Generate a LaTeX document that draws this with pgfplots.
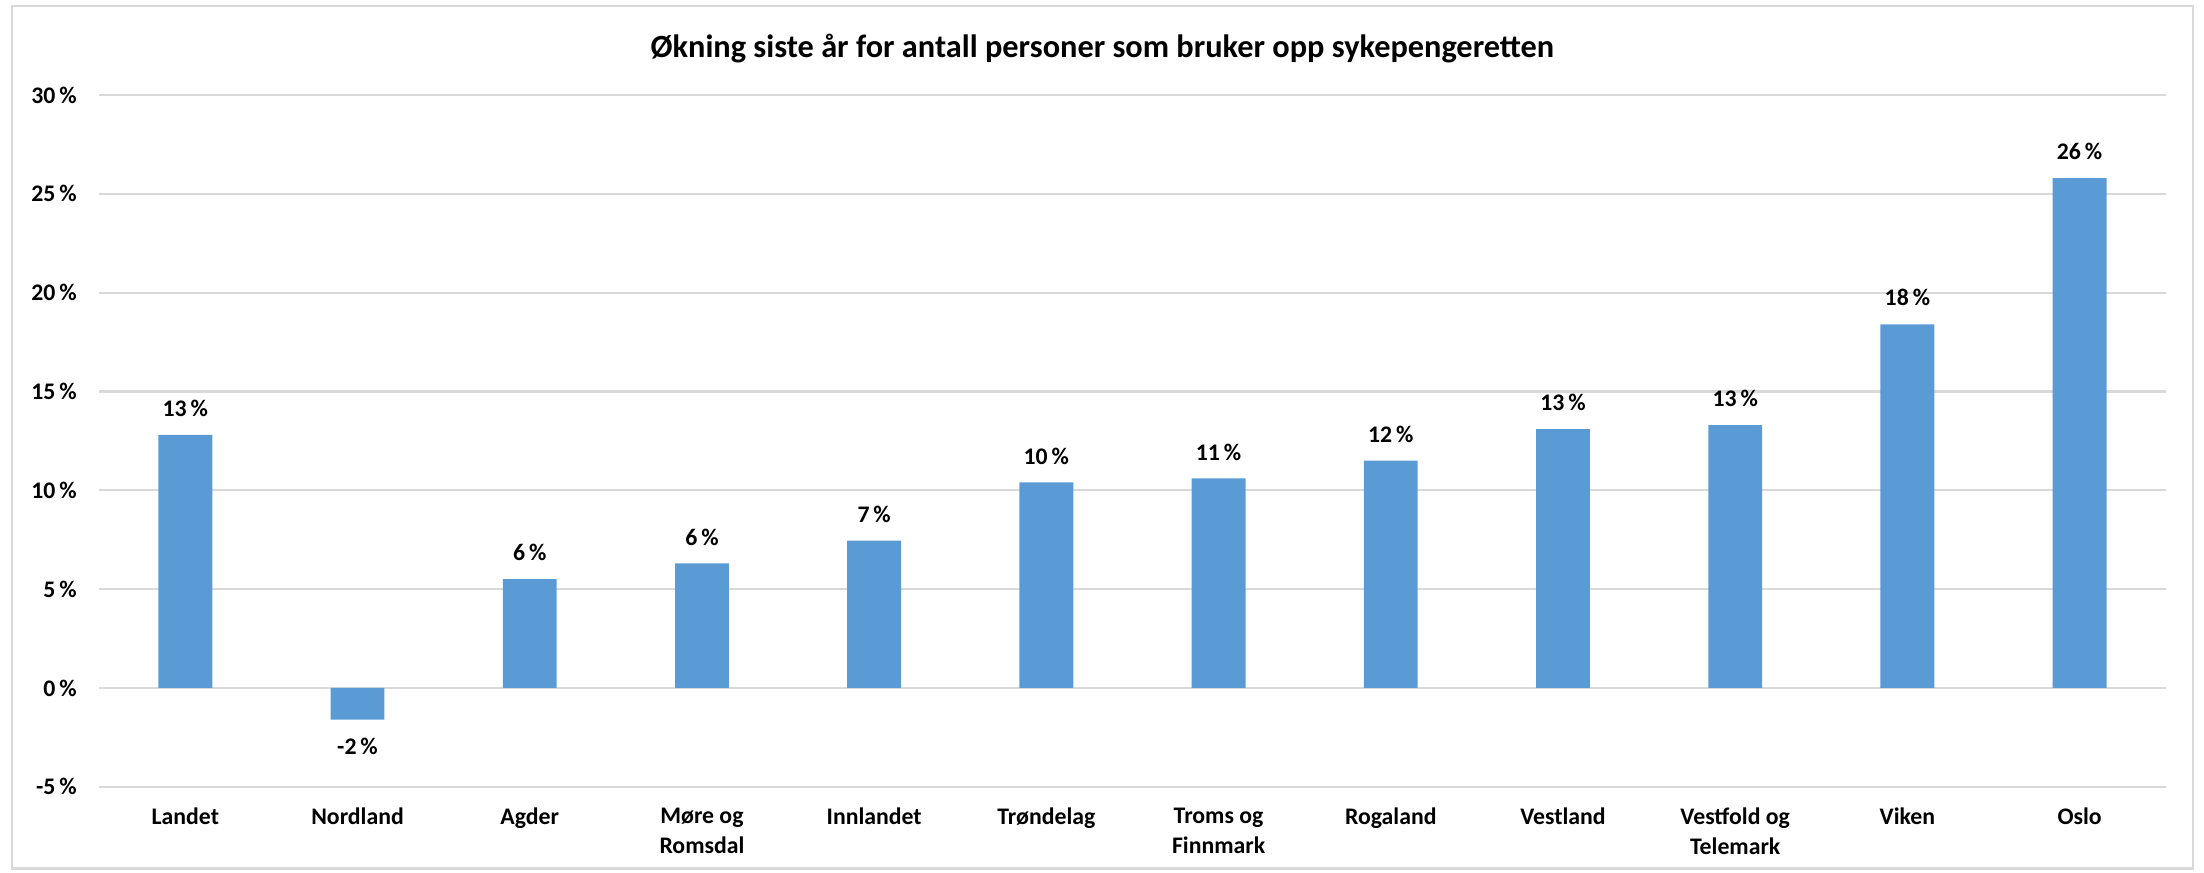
\documentclass[border=0pt]{standalone}
\usepackage{fontspec}
\setmainfont{Carlito}
\usepackage{pgfplots}
\usepackage{pgfplotstable}
\pgfplotsset{compat=1.18}
\definecolor{barblue}{HTML}{5B9BD5}
\definecolor{gridgray}{HTML}{D9D9D9}
\pgfplotstableread{
x y lab
0 12.8 13
1 -1.6 -2
2 5.5 6
3 6.3 6
4 7.45 7
5 10.4 10
6 10.6 11
7 11.5 12
8 13.1 13
9 13.3 13
10 18.4 18
11 25.8 26
}\data
\begin{document}
\begin{tikzpicture}
\useasboundingbox (-45.1pt,-39.2pt) rectangle (956.7pt,357.6pt);
\begin{axis}[
  at={(0,0)}, anchor=south west,
  width=939.3pt, height=314.4pt, scale only axis,
  xmin=-0.5, xmax=11.5, ymin=-5, ymax=30,
  ytick={-5,0,5,10,15,20,25,30},
  yticklabels={-5\,\%,0\,\%,5\,\%,10\,\%,15\,\%,20\,\%,25\,\%,30\,\%},
  xtick={0,...,11},
  xticklabels={Landet,Nordland,Agder,{Møre og\\Romsdal},Innlandet,Trøndelag,{Troms og\\Finnmark},Rogaland,Vestland,{Vestfold og\\Telemark},Viken,Oslo},
  axis line style={draw=none},
  major tick length=0pt,
  ymajorgrids, grid style={gridgray, line width=1pt},
  xticklabel style={align=center, font=\bfseries\fontsize{10.8}{13.4}\selectfont, yshift=-6.2pt},
  yticklabel style={font=\bfseries\fontsize{10.8}{12}\selectfont, xshift=-6.7pt},
  ybar, bar width=24.5pt,
  point meta=explicit symbolic,
  visualization depends on={rawy \as \rawy},
  nodes near coords={\pgfplotspointmeta\,\%},
  nodes near coords style={font=\bfseries\fontsize{10.8}{12}\selectfont, inner sep=0pt, black, anchor=center, yshift={ifthenelse(\rawy<0,-12.4,12)}},
]
\addplot[fill=barblue, draw=none] table[x=x, y=y, meta=lab]{\data};
\end{axis}
\node[font=\bfseries\fontsize{14.7}{17}\selectfont] at (456pt,335.4pt) {Økning siste år for antall personer som bruker opp sykepengeretten};
\draw[gridgray, line width=1pt] (-39.7pt,-37.2pt) rectangle (951.7pt,354.9pt);
\end{tikzpicture}
\end{document}
